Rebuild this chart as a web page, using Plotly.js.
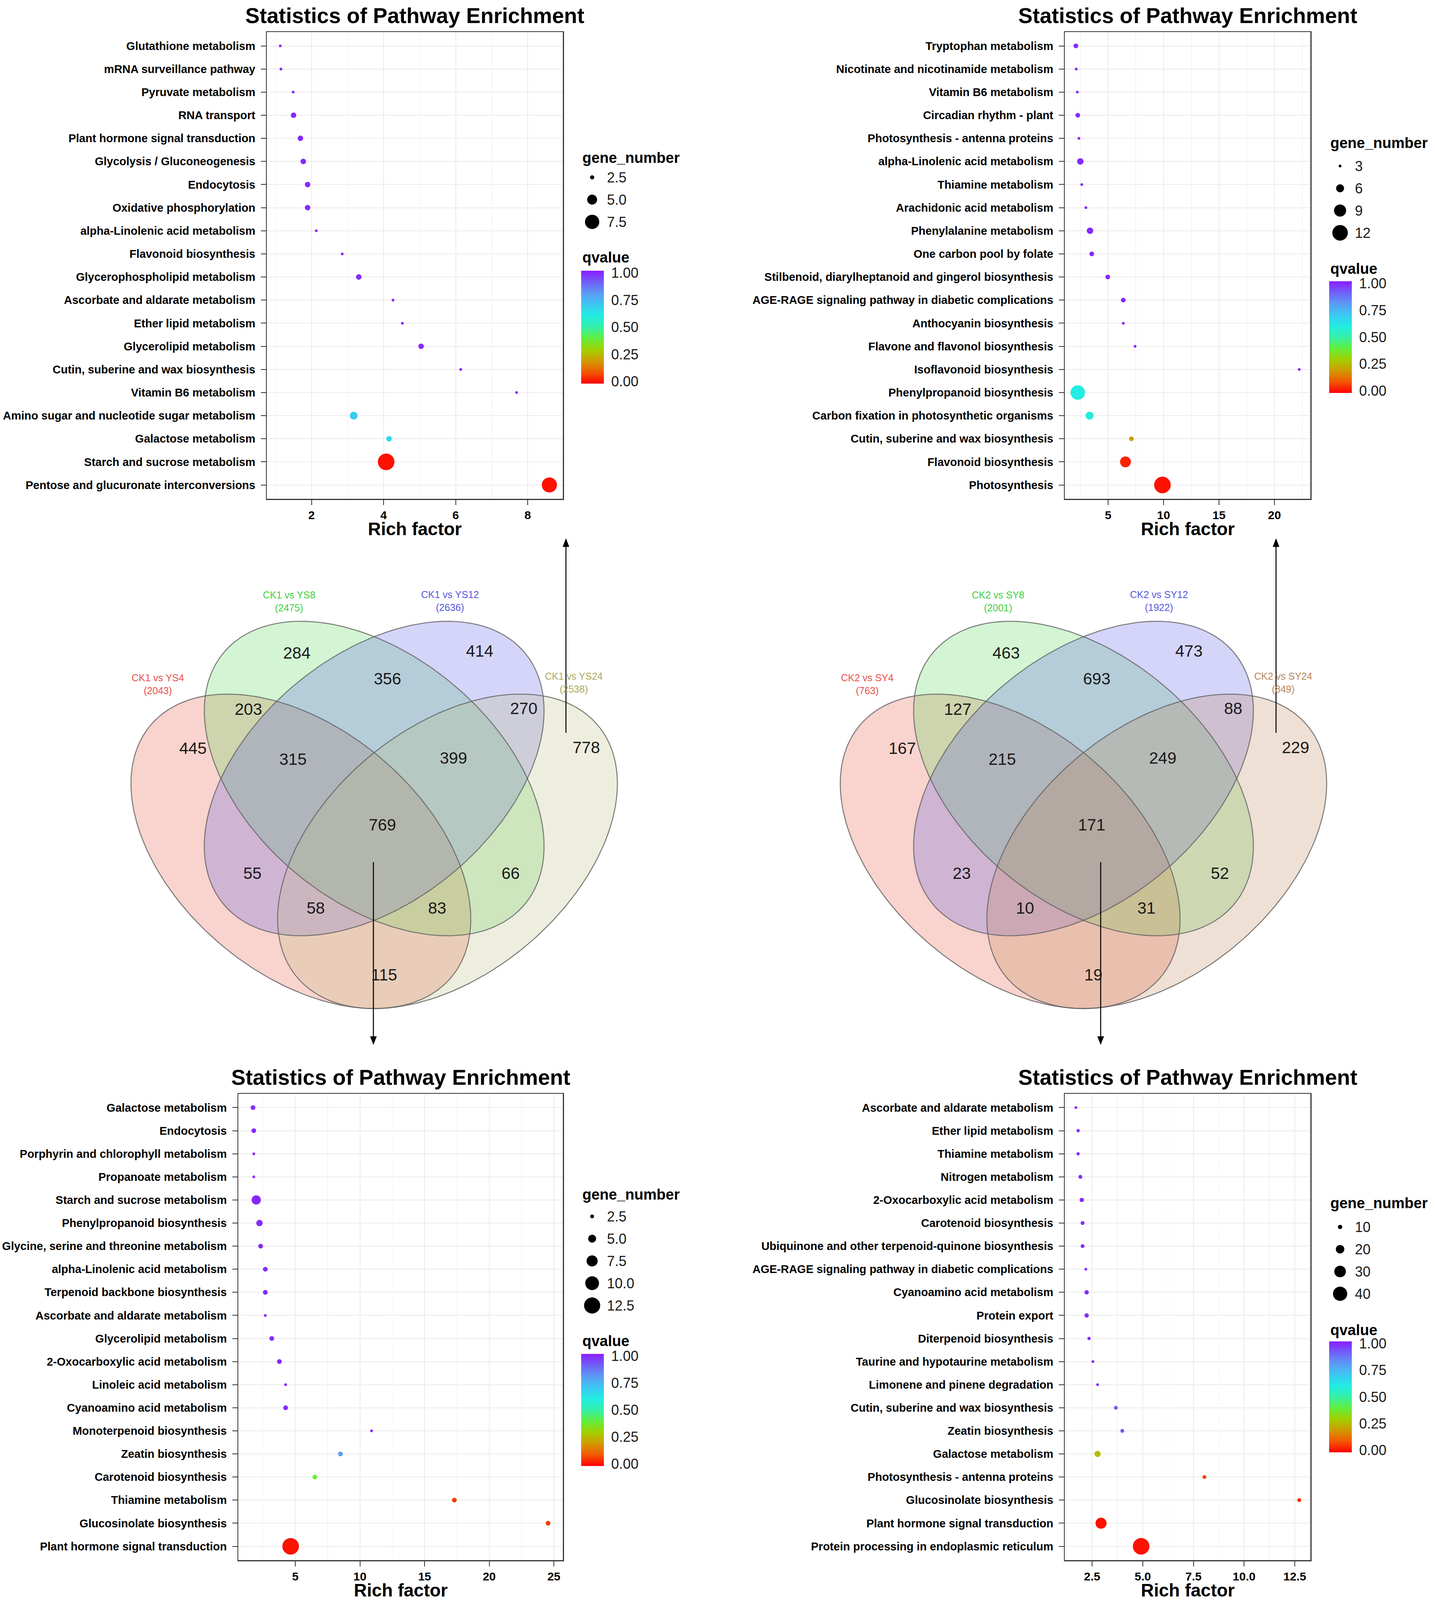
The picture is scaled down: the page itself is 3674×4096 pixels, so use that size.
<!DOCTYPE html>
<html><head><meta charset="utf-8">
<script src="https://cdn.plot.ly/plotly-3.0.1.min.js"></script>
<style>html,body{margin:0;padding:0;background:#fff;}#chart{width:3674px;height:4096px;}</style>
</head><body><div id="chart"></div>
<script>
// ================= DATA =================
// Panel A (top-left)
const catsA = ['Glutathione metabolism','mRNA surveillance pathway','Pyruvate metabolism','RNA transport','Plant hormone signal transduction','Glycolysis / Gluconeogenesis','Endocytosis','Oxidative phosphorylation','alpha-Linolenic acid metabolism','Flavonoid biosynthesis','Glycerophospholipid metabolism','Ascorbate and aldarate metabolism','Ether lipid metabolism','Glycerolipid metabolism','Cutin, suberine and wax biosynthesis','Vitamin B6 metabolism','Amino sugar and nucleotide sugar metabolism','Galactose metabolism','Starch and sucrose metabolism','Pentose and glucuronate interconversions'];
const richA = [1.13,1.15,1.49,1.50,1.69,1.77,1.89,1.89,2.13,2.85,3.31,4.26,4.52,5.04,6.14,7.69,3.17,4.15,4.07,8.60];
const geneA = [2,2,2,3,3,3,3,3,2,2,3,2,2,3,2,2,4,3,9,8];
const qA    = [1,1,1,1,1,1,1,1,1,1,1,1,1,1,1,1,0.70,0.65,0,0];
const breaksA = [2.5,5.0,7.5];
const breakLabelsA = ['2.5','5.0','7.5'];

// Panel B (top-right)
const catsB = ['Tryptophan metabolism','Nicotinate and nicotinamide metabolism','Vitamin B6 metabolism','Circadian rhythm - plant','Photosynthesis - antenna proteins','alpha-Linolenic acid metabolism','Thiamine metabolism','Arachidonic acid metabolism','Phenylalanine metabolism','One carbon pool by folate','Stilbenoid, diarylheptanoid and gingerol biosynthesis','AGE-RAGE signaling pathway in diabetic complications','Anthocyanin biosynthesis','Flavone and flavonol biosynthesis','Isoflavonoid biosynthesis','Phenylpropanoid biosynthesis','Carbon fixation in photosynthetic organisms','Cutin, suberine and wax biosynthesis','Flavonoid biosynthesis','Photosynthesis'];
const richB = [2.10,2.13,2.23,2.27,2.37,2.50,2.63,3.00,3.37,3.53,4.97,6.37,6.37,7.43,22.23,2.27,3.33,7.10,6.57,9.90];
const geneB = [4,3,3,4,3,5,3,3,5,4,4,4,3,3,3,11,6,4,8,13];
const qB    = [1,1,1,1,1,1,1,1,1,1,1,1,1,1,1,0.60,0.58,0.20,0.02,0];
const breaksB = [3,6,9,12];
const breakLabelsB = ['3','6','9','12'];

// Panel C (bottom-left)
const catsC = ['Galactose metabolism','Endocytosis','Porphyrin and chlorophyll metabolism','Propanoate metabolism','Starch and sucrose metabolism','Phenylpropanoid biosynthesis','Glycine, serine and threonine metabolism','alpha-Linolenic acid metabolism','Terpenoid backbone biosynthesis','Ascorbate and aldarate metabolism','Glycerolipid metabolism','2-Oxocarboxylic acid metabolism','Linoleic acid metabolism','Cyanoamino acid metabolism','Monoterpenoid biosynthesis','Zeatin biosynthesis','Carotenoid biosynthesis','Thiamine metabolism','Glucosinolate biosynthesis','Plant hormone signal transduction'];
const richC = [1.73,1.79,1.79,1.79,1.98,2.23,2.32,2.68,2.68,2.68,3.18,3.77,4.25,4.25,10.90,8.49,6.51,17.30,24.55,4.64];
const geneC = [3,3,2,2,6,4,3,3,3,2,3,3,2,3,2,3,3,3,3,13];
const qC    = [1,1,1,1,1,1,1,1,1,1,1,1,1,1,1,0.80,0.40,0.05,0.05,0];
const breaksC = [2.5,5.0,7.5,10.0,12.5];
const breakLabelsC = ['2.5','5.0','7.5','10.0','12.5'];

// Panel D (bottom-right)
const catsD = ['Ascorbate and aldarate metabolism','Ether lipid metabolism','Thiamine metabolism','Nitrogen metabolism','2-Oxocarboxylic acid metabolism','Carotenoid biosynthesis','Ubiquinone and other terpenoid-quinone biosynthesis','AGE-RAGE signaling pathway in diabetic complications','Cyanoamino acid metabolism','Protein export','Diterpenoid biosynthesis','Taurine and hypotaurine metabolism','Limonene and pinene degradation','Cutin, suberine and wax biosynthesis','Zeatin biosynthesis','Galactose metabolism','Photosynthesis - antenna proteins','Glucosinolate biosynthesis','Plant hormone signal transduction','Protein processing in endoplasmic reticulum'];
const richD = [1.70,1.81,1.81,1.92,1.99,2.03,2.03,2.19,2.23,2.23,2.35,2.54,2.77,3.67,3.99,2.77,8.04,12.72,2.94,4.92];
const geneD = [7,8,8,9,10,9,9,7,10,10,8,7,7,9,9,14,9,9,28,50];
const qD    = [1,1,1,1,1,1,1,1,1,1,1,1,1,0.93,0.93,0.25,0.06,0.03,0,0];
const breaksD = [10,20,30,40];
const breakLabelsD = ['10','20','30','40'];

const qTicks = [0,0.25,0.5,0.75,1];
const qTickLabels = ['0.00','0.25','0.50','0.75','1.00'];

// Venn data (region order: A,B,C,D,AB,BC,CD,ABC,BCD,ABCD,AC,BD,ACD,ABD,AD)
const vennSetsL = ['CK1 vs YS4','CK1 vs YS8','CK1 vs YS12','CK1 vs YS24'];
const vennTotalsL = [2043,2475,2636,2538];
const vennCountsL = [445,284,414,778,203,356,270,315,399,769,55,66,58,83,115];
const vennSetsR = ['CK2 vs SY4','CK2 vs SY8','CK2 vs SY12','CK2 vs SY24'];
const vennTotalsR = [763,2001,1922,849];
const vennCountsR = [167,463,473,229,127,693,88,215,249,171,23,52,10,31,19];

// ================= LAYOUT / STYLE =================
const W = 3674, H = 4096;
const FONT = 'Liberation Sans, Arial, Helvetica, sans-serif';
const CS = [[0,'#FF0000'],[0.1,'#F25800'],[0.2,'#D19A00'],[0.3,'#A2D000'],[0.4,'#62EE3E'],[0.5,'#36F0A8'],[0.6,'#22ECE4'],[0.7,'#3CC8F2'],[0.8,'#5C9AF4'],[0.9,'#7060F8'],[1,'#8B1CFF']];
const CB_PAD = 0.02;   // colour bar extends slightly past the 0 and 1 ticks
const DMIN = 7, DMAX = 42.5;
const px2x = p => p / W, px2y = p => 1 - p / H;
function sizeScale(vals){
  const lo = Math.sqrt(Math.min(...vals)), hi = Math.sqrt(Math.max(...vals));
  return v => DMIN + (DMAX - DMIN) * (Math.sqrt(v) - lo) / (hi - lo);
}

const panels = [
  {cats:catsA, rich:richA, gene:geneA, q:qA, brk:breaksA, brkLab:breakLabelsA, dtick:2, fmt:'',
   box:[683,1441,82,1277], leg:{x:1489, titleY:404, item0:454, qTitleY:659, cbTop:693, cbLen:289}},
  {cats:catsB, rich:richB, gene:geneB, q:qB, brk:breaksB, brkLab:breakLabelsB, dtick:5, fmt:'',
   box:[2726,3355,82,1277], leg:{x:3404, titleY:366, item0:425, qTitleY:688, cbTop:720, cbLen:286}},
  {cats:catsC, rich:richC, gene:geneC, q:qC, brk:breaksC, brkLab:breakLabelsC, dtick:5, fmt:'',
   box:[610,1441,2800,3994], leg:{x:1489, titleY:3058, item0:3114, qTitleY:3433, cbTop:3466, cbLen:287}},
  {cats:catsD, rich:richD, gene:geneD, q:qD, brk:breaksD, brkLab:breakLabelsD, dtick:2.5, fmt:'.1f',
   box:[2726,3355,2800,3994], leg:{x:3404, titleY:3080, item0:3141, qTitleY:3405, cbTop:3434, cbLen:284}}
];
const ITEM_STEP = 57;

const traces = [];
const layout = {
  width: W, height: H, margin:{l:0,r:0,t:0,b:0}, autosize:false,
  paper_bgcolor:'#ffffff', plot_bgcolor:'rgba(0,0,0,0)', showlegend:false, hovermode:false,
  font:{family:FONT, color:'#000'},
  annotations:[], shapes:[]
};

panels.forEach((p, i) => {
  const n = i === 0 ? '' : String(i + 1);
  const xa = 'x' + n, ya = 'y' + n;
  const sz = sizeScale(p.gene);
  const mn = Math.min(...p.rich), mx = Math.max(...p.rich), sp = mx - mn;
  const [x0, x1, y0, y1] = p.box;
  const L = p.leg;
  traces.push({
    type:'scatter', mode:'markers', x:p.rich, y:p.cats, xaxis:xa, yaxis:ya,
    marker:{size:p.gene.map(sz), sizemode:'diameter', color:p.q, colorscale:CS, cmin:-CB_PAD, cmax:1 + CB_PAD,
      line:{width:0}, opacity:1, showscale:true,
      colorbar:{x:px2x(L.x - 1), xanchor:'left', y:px2y(L.cbTop), yanchor:'top',
        lenmode:'pixels', len:L.cbLen, thicknessmode:'pixels', thickness:58, xpad:0, ypad:0,
        outlinewidth:0, tickvals:qTicks, ticktext:qTickLabels, ticks:'outside', ticklen:12,
        tickcolor:'rgba(0,0,0,0)', tickfont:{family:FONT, size:36, color:'#1a1a1a'}}}
  });
  layout['xaxis' + n] = {
    domain:[px2x(x0), px2x(x1)], anchor:ya, range:[mn - 0.05*sp, mx + 0.05*sp],
    tick0:0, dtick:p.dtick, tickformat:p.fmt, ticks:'outside', ticklen:13, tickwidth:2, tickcolor:'#333',
    showline:true, mirror:true, linecolor:'#333', linewidth:2.5, zeroline:false,
    showgrid:true, gridcolor:'#ebebeb', gridwidth:2,
    minor:{tick0:0, dtick:p.dtick/2, showgrid:true, gridcolor:'#f3f3f3', gridwidth:1.5, ticks:''},
    tickfont:{family:FONT, size:30, color:'#000', weight:'bold'}, fixedrange:true
  };
  layout['yaxis' + n] = {
    domain:[px2y(y1), px2y(y0)], anchor:xa, type:'category', categoryorder:'array', categoryarray:p.cats,
    range:[p.cats.length - 0.4, -0.6], ticks:'outside', ticklen:13, tickwidth:2, tickcolor:'#333',
    showline:true, mirror:true, linecolor:'#333', linewidth:2.5, zeroline:false,
    showgrid:true, gridcolor:'#ebebeb', gridwidth:2, ticklabelstandoff:8,
    tickfont:{family:FONT, size:29, color:'#000', weight:'bold'}, fixedrange:true
  };
  const cx = (x0 + x1) / 2;
  layout.annotations.push({xref:'paper', yref:'paper', x:px2x(cx), y:px2y(y0 - 42), xanchor:'center', yanchor:'middle',
    text:'<b>Statistics of Pathway Enrichment</b>', showarrow:false, font:{family:FONT, size:55, color:'#000'}});
  layout.annotations.push({xref:'paper', yref:'paper', x:px2x(cx), y:px2y(y1 + 77), xanchor:'center', yanchor:'middle',
    text:'<b>Rich factor</b>', showarrow:false, font:{family:FONT, size:46, color:'#000'}});
  // size legend
  layout.annotations.push({xref:'paper', yref:'paper', x:px2x(L.x), y:px2y(L.titleY), xanchor:'left', yanchor:'middle',
    text:'<b>gene_number</b>', showarrow:false, font:{family:FONT, size:38, color:'#000'}});
  p.brk.forEach((b, k) => {
    const yy = L.item0 + k * ITEM_STEP, r = sz(b) / 2;
    layout.shapes.push({type:'circle', xref:'paper', yref:'paper', xsizemode:'pixel', ysizemode:'pixel',
      xanchor:px2x(L.x + 27), yanchor:px2y(yy), x0:-r, x1:r, y0:-r, y1:r, fillcolor:'#000', line:{width:0}});
    layout.annotations.push({xref:'paper', yref:'paper', x:px2x(L.x + 63), y:px2y(yy), xanchor:'left', yanchor:'middle',
      text:p.brkLab[k], showarrow:false, font:{family:FONT, size:36, color:'#1a1a1a'}});
  });
  layout.annotations.push({xref:'paper', yref:'paper', x:px2x(L.x), y:px2y(L.qTitleY), xanchor:'left', yanchor:'middle',
    text:'<b>qvalue</b>', showarrow:false, font:{family:FONT, size:38, color:'#000'}});
  // white tick marks inside colour bar
  qTicks.forEach(t => {
    const yy = L.cbTop + (1 + CB_PAD - t) / (1 + 2*CB_PAD) * L.cbLen;
    [[L.x - 1, L.x + 10],[L.x + 46, L.x + 57]].forEach(([a, b]) => layout.shapes.push({type:'line', xref:'paper', yref:'paper',
      x0:px2x(a), x1:px2x(b), y0:px2y(yy), y1:px2y(yy), line:{color:'rgba(255,255,255,0.85)', width:2}, layer:'above'}));
  });
});

// ================= VENN =================
const SX = 1526, SY = 1412;           // px per venn unit
const VC = {u:0.5, v:0.57};           // reference point
const vennCentersPx = [[958,1993],[2774,1993]];
const ELL_A = 0.341, ELL_B = 0.215;
const ELL = [{cu:0.377, cv:0.438, th:-45},{cu:0.5, cv:0.57, th:-45},{cu:0.5, cv:0.57, th:45},{cu:0.623, cv:0.438, th:45}];
const REGION_POS = [[0.196,0.625],[0.370,0.798],[0.677,0.801],[0.856,0.626],[0.289,0.696],[0.522,0.751],[0.751,0.697],
  [0.364,0.605],[0.633,0.607],[0.514,0.486],[0.296,0.398],[0.729,0.398],[0.402,0.335],[0.606,0.335],[0.517,0.214]];
const SET_POS = [[0.137,0.741],[0.357,0.891],[0.627,0.892],[0.835,0.744]];
const fillsL = ['rgba(231,79,55,0.25)','rgba(79,215,79,0.25)','rgba(87,87,235,0.25)','rgba(187,187,127,0.25)'];
const fillsR = ['rgba(231,79,55,0.25)','rgba(79,215,79,0.25)','rgba(87,87,235,0.25)','rgba(187,131,83,0.25)'];
const labColL = ['#E8504A','#3ECF3E','#5656E0','#A8A860'];
const labColR = ['#E8504A','#3ECF3E','#5656E0','#B8865A'];

function ellipse(e){
  const u = [], v = [], th = e.th * Math.PI / 180;
  for (let k = 0; k <= 240; k++){
    const t = 2 * Math.PI * k / 240;
    u.push(e.cu + ELL_A*Math.cos(t)*Math.cos(th) - ELL_B*Math.sin(t)*Math.sin(th));
    v.push(e.cv + ELL_A*Math.cos(t)*Math.sin(th) + ELL_B*Math.sin(t)*Math.cos(th));
  }
  return {u, v};
}
layout.yaxis5 = {domain:[0,1], anchor:'x5', range:[VC.v - (H - vennCentersPx[0][1]) / SY, VC.v + vennCentersPx[0][1] / SY], visible:false, fixedrange:true};
[[vennSetsL, vennTotalsL, vennCountsL, fillsL, labColL],[vennSetsR, vennTotalsR, vennCountsR, fillsR, labColR]].forEach((vd, j) => {
  const [sets, totals, counts, fills, labCols] = vd;
  const xa = 'x' + (5 + j);
  const cpx = vennCentersPx[j][0];
  layout['xaxis' + (5 + j)] = {domain:[0,1], anchor:'y5', range:[VC.u - cpx / SX, VC.u + (W - cpx) / SX], visible:false, fixedrange:true};
  ELL.forEach((e, k) => {
    const pts = ellipse(e);
    traces.push({type:'scatter', mode:'lines', x:pts.u, y:pts.v, xaxis:xa, yaxis:'y5', fill:'toself',
      fillcolor:fills[k], line:{width:0, color:'rgba(0,0,0,0)'}, hoverinfo:'skip'});
  });
  ELL.forEach(e => {
    const pts = ellipse(e);
    traces.push({type:'scatter', mode:'lines', x:pts.u, y:pts.v, xaxis:xa, yaxis:'y5',
      line:{width:2.6, color:'rgba(95,95,95,0.8)'}, hoverinfo:'skip'});
  });
  counts.forEach((c, k) => layout.annotations.push({xref:xa, yref:'y5', x:REGION_POS[k][0], y:REGION_POS[k][1],
    text:String(c), showarrow:false, xanchor:'center', yanchor:'middle', font:{family:FONT, size:42, color:'#1a1a1a'}}));
  sets.forEach((s, k) => layout.annotations.push({xref:xa, yref:'y5', x:SET_POS[k][0], y:SET_POS[k][1],
    text:s + '<br>(' + totals[k] + ')', showarrow:false, xanchor:'center', yanchor:'middle',
    font:{family:FONT, size:25, color:labCols[k]}}));
});

// arrows
function arrow(xp, tailY, headY){
  const dir = headY < tailY ? -1 : 1, hl = 22, hw = 8.5;
  const baseY = headY - dir * hl;
  layout.shapes.push({type:'line', xref:'paper', yref:'paper', x0:px2x(xp), x1:px2x(xp), y0:px2y(tailY), y1:px2y(baseY),
    line:{color:'#000', width:2.6}, layer:'above'});
  layout.shapes.push({type:'path', xref:'paper', yref:'paper', layer:'above', fillcolor:'#000', line:{width:0},
    path:`M ${px2x(xp - hw)} ${px2y(baseY)} L ${px2x(xp + hw)} ${px2y(baseY)} L ${px2x(xp)} ${px2y(headY)} Z`});
}
arrow(1449, 1876, 1378);
arrow(956, 2207, 2675);
arrow(3267, 1876, 1378);
arrow(2818, 2207, 2675);

Plotly.newPlot('chart', traces, layout, {staticPlot:true, displayModeBar:false});
</script></body></html>
